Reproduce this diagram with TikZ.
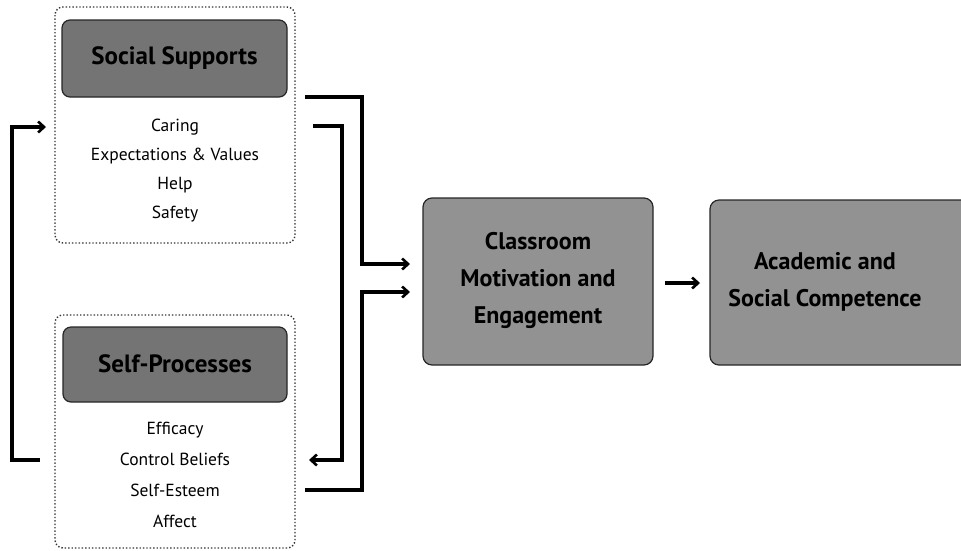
\documentclass[tikz,border=0pt]{standalone}
\usepackage{fontspec}
\setmainfont{PT Sans}
\usetikzlibrary{arrows.meta}
\definecolor{headgray}{HTML}{747474}
\definecolor{boxgray}{HTML}{929292}
\tikzset{
  outerbox/.style={draw=black!80, dotted, line width=1.4pt, rounded corners=8pt},
  headbox/.style={draw=black!85, fill=headgray, line width=1.2pt, rounded corners=8pt},
  bigbox/.style={draw=black!85, fill=boxgray, line width=1.2pt, rounded corners=9pt},
  headtext/.style={font=\fontsize{25}{28}\selectfont\bfseries, inner sep=0pt},
  listtext/.style={font=\fontsize{17.5}{29}\selectfont, align=center, inner sep=0pt},
  listtextb/.style={font=\fontsize{17.5}{31}\selectfont, align=center, inner sep=0pt},
  bigtext/.style={font=\fontsize{24}{37}\selectfont\bfseries, align=center, inner sep=0pt},
  conn/.style={line width=3.4pt, -{Straight Barb[length=6pt,width=11pt,line width=2.6pt]}},
}
\begin{document}
\begin{tikzpicture}[x=1pt,y=-1pt]
\useasboundingbox (0,0) rectangle (961,550);
% outer dotted boxes
\draw[outerbox] (55,7) rectangle (295,243);
\draw[outerbox] (55,315) rectangle (295,548);
% header boxes
\draw[headbox] (62,20) rectangle (287,97);
\node[headtext] (ss) at (174.5,58) {Social Supports};
\draw[headbox] (63,327) rectangle (287,402);
\node[headtext] (sp) at (175,364) {Self-Processes};
% lists
\node[listtext] (sslist) at (175,171) {Caring\\Expectations \& Values\\Help\\Safety};
\node[listtextb] (splist) at (175,475) {Efficacy\\Control Beliefs\\Self-Esteem\\Affect};
% big boxes
\draw[bigbox] (423,198) rectangle (653,365);
\node[bigtext] (cme) at (538,280) {Classroom\\Motivation and\\Engagement};
\draw[bigbox] (710,200) rectangle (975,365);
\node[bigtext] (asc) at (825,282) {Academic and\\Social Competence};
% coordinates for connectors
\coordinate (fbS) at (40,460);
\coordinate (fbE) at (46,127);
\coordinate (c1s) at (305,97);
\coordinate (c1e) at (410,264);
\coordinate (c2s) at (313,126);
\coordinate (c2e) at (309,460);
\coordinate (c3s) at (305,490);
\coordinate (c3e) at (410,292);
\coordinate (c4s) at (665,283);
\coordinate (c4e) at (700,283);
% connectors
\draw[conn] (fbS) -- (12,460) |- (fbE);
\draw[conn] (c1s) -- (362,97) |- (c1e);
\draw[conn] (c2s) -- (342,126) |- (c2e);
\draw[conn] (c3s) -- (362,490) |- (c3e);
\draw[conn] (c4s) -- (c4e);
\end{tikzpicture}
\end{document}
